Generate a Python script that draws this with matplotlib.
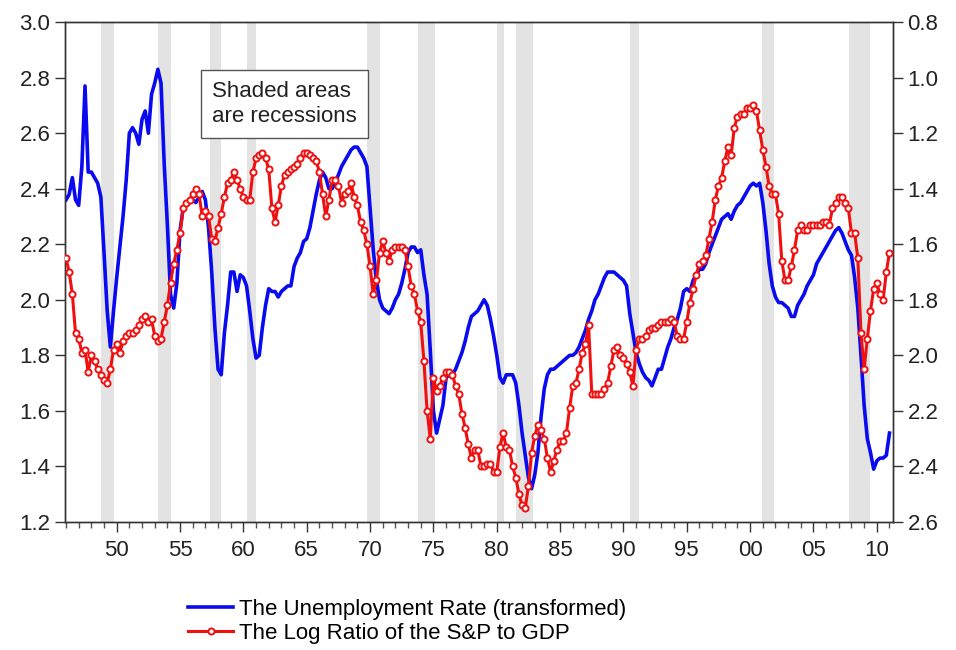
import numpy as np
import matplotlib
matplotlib.use("Agg")
import matplotlib.pyplot as plt
from matplotlib.lines import Line2D

plt.rcParams['font.family'] = ['Liberation Sans', 'DejaVu Sans']

# quarterly observations, 1946Q1 .. 2011Q1
start_year = 1946

# unemployment rate (transformed), left axis
unemp = [
    2.36, 2.38, 2.44, 2.36,  # 1946
    2.34, 2.48, 2.77, 2.46,
    2.46, 2.44, 2.42, 2.37,
    2.17, 1.96, 1.83, 1.96,
    2.08, 2.19, 2.30, 2.43,  # 1950
    2.60, 2.62, 2.60, 2.56,
    2.65, 2.68, 2.60, 2.74,
    2.78, 2.83, 2.78, 2.49,
    2.27, 2.02, 1.97, 2.06,
    2.25, 2.33, 2.34, 2.35,  # 1955
    2.36, 2.35, 2.37, 2.39,
    2.36, 2.26, 2.10, 1.90,
    1.75, 1.73, 1.88, 1.98,
    2.10, 2.10, 2.03, 2.09,
    2.08, 2.05, 1.96, 1.86,  # 1960
    1.79, 1.80, 1.90, 1.98,
    2.04, 2.03, 2.03, 2.01,
    2.03, 2.04, 2.05, 2.05,
    2.12, 2.15, 2.17, 2.21,
    2.22, 2.26, 2.32, 2.38,  # 1965
    2.43, 2.46, 2.44, 2.40,
    2.40, 2.42, 2.45, 2.48,
    2.50, 2.52, 2.54, 2.55,
    2.55, 2.53, 2.51, 2.48,
    2.33, 2.18, 2.07, 2.00,  # 1970
    1.97, 1.96, 1.95, 1.97,
    2.00, 2.02, 2.06, 2.11,
    2.17, 2.19, 2.19, 2.17,
    2.18, 2.09, 2.02, 1.82,
    1.60, 1.52, 1.57, 1.62,  # 1975
    1.72, 1.73, 1.73, 1.75,
    1.78, 1.81, 1.85, 1.90,
    1.94, 1.95, 1.96, 1.98,
    2.00, 1.98, 1.93, 1.87,
    1.80, 1.72, 1.70, 1.73,  # 1980
    1.73, 1.73, 1.70, 1.62,
    1.52, 1.44, 1.36, 1.32,
    1.37, 1.45, 1.58, 1.68,
    1.73, 1.75, 1.75, 1.76,
    1.77, 1.78, 1.79, 1.80,  # 1985
    1.80, 1.81, 1.83, 1.86,
    1.89, 1.93, 1.96, 2.00,
    2.02, 2.05, 2.08, 2.10,
    2.10, 2.10, 2.09, 2.08,
    2.07, 2.05, 1.95, 1.88,  # 1990
    1.81, 1.77, 1.74, 1.72,
    1.71, 1.69, 1.72, 1.75,
    1.75, 1.79, 1.83, 1.86,
    1.90, 1.93, 1.97, 2.03,
    2.04, 2.03, 2.07, 2.09,  # 1995
    2.11, 2.11, 2.13, 2.17,
    2.20, 2.23, 2.26, 2.29,
    2.30, 2.31, 2.29, 2.32,
    2.34, 2.35, 2.37, 2.39,
    2.41, 2.42, 2.41, 2.42,  # 2000
    2.35, 2.25, 2.13, 2.05,
    2.01, 1.99, 1.99, 1.98,
    1.97, 1.94, 1.94, 1.98,
    2.00, 2.02, 2.05, 2.07,
    2.09, 2.13, 2.15, 2.17,  # 2005
    2.19, 2.21, 2.23, 2.25,
    2.26, 2.24, 2.21, 2.18,
    2.16, 2.08, 1.97, 1.80,
    1.62, 1.50, 1.45, 1.39,
    1.42, 1.43, 1.43, 1.44,  # 2010
    1.52,
]

# log ratio of the S&P to GDP, right axis (inverted)
sp_gdp = [
    1.65, 1.70, 1.78, 1.92,  # 1946
    1.94, 1.99, 1.98, 2.06,
    2.00, 2.02, 2.05, 2.07,
    2.09, 2.10, 2.05, 1.98,
    1.96, 1.99, 1.95, 1.93,  # 1950
    1.92, 1.92, 1.91, 1.89,
    1.87, 1.86, 1.88, 1.87,
    1.93, 1.95, 1.94, 1.88,
    1.82, 1.74, 1.67, 1.62,
    1.56, 1.47, 1.45, 1.44,  # 1955
    1.42, 1.40, 1.42, 1.50,
    1.48, 1.50, 1.58, 1.59,
    1.54, 1.49, 1.43, 1.38,
    1.37, 1.34, 1.37, 1.40,
    1.43, 1.44, 1.44, 1.34,  # 1960
    1.29, 1.28, 1.27, 1.29,
    1.33, 1.47, 1.52, 1.46,
    1.39, 1.35, 1.34, 1.33,
    1.32, 1.31, 1.29, 1.27,
    1.27, 1.28, 1.29, 1.30,  # 1965
    1.34, 1.42, 1.50, 1.44,
    1.37, 1.37, 1.39, 1.45,
    1.42, 1.41, 1.38, 1.43,
    1.46, 1.52, 1.55, 1.60,
    1.68, 1.78, 1.73, 1.63,  # 1970
    1.59, 1.63, 1.66, 1.62,
    1.61, 1.61, 1.61, 1.62,
    1.68, 1.75, 1.78, 1.84,
    1.88, 2.02, 2.20, 2.30,
    2.08, 2.13, 2.11, 2.08,  # 1975
    2.06, 2.06, 2.07, 2.11,
    2.14, 2.21, 2.26, 2.32,
    2.37, 2.34, 2.34, 2.40,
    2.40, 2.39, 2.39, 2.42,
    2.42, 2.33, 2.28, 2.33,  # 1980
    2.34, 2.40, 2.44, 2.50,
    2.54, 2.55, 2.47, 2.35,
    2.29, 2.25, 2.27, 2.30,
    2.37, 2.42, 2.38, 2.34,
    2.31, 2.31, 2.28, 2.19,  # 1985
    2.11, 2.10, 2.05, 1.99,
    1.96, 1.89, 2.14, 2.14,
    2.14, 2.14, 2.12, 2.10,
    2.04, 1.98, 1.97, 2.00,
    2.01, 2.03, 2.06, 2.11,  # 1990
    1.98, 1.94, 1.94, 1.93,
    1.91, 1.90, 1.90, 1.89,
    1.88, 1.88, 1.88, 1.87,
    1.88, 1.93, 1.94, 1.94,
    1.88, 1.81, 1.76, 1.71,  # 1995
    1.67, 1.66, 1.64, 1.58,
    1.52, 1.44, 1.39, 1.36,
    1.30, 1.25, 1.28, 1.18,
    1.14, 1.13, 1.13, 1.11,
    1.11, 1.10, 1.12, 1.19,  # 2000
    1.26, 1.32, 1.39, 1.42,
    1.42, 1.49, 1.66, 1.73,
    1.73, 1.68, 1.62, 1.55,
    1.53, 1.55, 1.55, 1.53,
    1.53, 1.53, 1.53, 1.52,  # 2005
    1.52, 1.53, 1.47, 1.45,
    1.43, 1.43, 1.45, 1.47,
    1.56, 1.56, 1.65, 1.92,
    2.05, 1.94, 1.84, 1.76,
    1.74, 1.78, 1.80, 1.70,  # 2010
    1.63,
]

recessions = [
    (1948.75, 1949.75), (1953.25, 1954.3), (1957.4, 1958.2), (1960.25, 1961.0),
    (1969.75, 1970.8), (1973.75, 1975.1), (1980.0, 1980.6), (1981.5, 1982.9),
    (1990.5, 1991.2), (2000.95, 2001.85), (2007.8, 2009.45),
]

major_years = list(range(1950, 2011, 5))
major_labels = ['50', '55', '60', '65', '70', '75', '80', '85', '90', '95', '00', '05', '10']

t = start_year + 0.25 * np.arange(len(unemp))

fig = plt.figure(figsize=(9.56, 6.5), dpi=100)
ax = fig.add_axes([0.068, 0.197, 0.866, 0.769])
ax2 = ax.twinx()

for a, b in recessions:
    ax.axvspan(a, b, color='#e3e3e3', lw=0, zorder=0)

ax.plot(t, unemp, color='#0a0af0', lw=2.6, zorder=3)
ax2.plot(t, sp_gdp, color='#f01010', lw=2.2, marker='o', ms=4.4,
         mfc='white', mec='#f01010', mew=1.4, zorder=3)

ax.set_xlim(1945.92, 2011.27)
ax.set_ylim(1.2, 3.0)
ax2.set_ylim(2.6, 0.8)
ax.set_yticks(np.arange(1.2, 3.01, 0.2))
ax2.set_yticks(np.arange(0.8, 2.61, 0.2))
ax.set_xticks(major_years)
ax.set_xticklabels(major_labels)
ax.set_xticks(range(1946, 2012), minor=True)

for a in (ax, ax2):
    for s in a.spines.values():
        s.set_color('#333333')
        s.set_linewidth(1.0)
    a.tick_params(axis='both', which='major', length=7, width=1, color='#333333',
                  labelsize=16, labelcolor='#222222')
    a.tick_params(axis='both', which='minor', length=4, width=1, color='#555555')
ax.yaxis.set_major_formatter(plt.FormatStrFormatter('%.1f'))
ax2.yaxis.set_major_formatter(plt.FormatStrFormatter('%.1f'))
ax.tick_params(axis='x', pad=6)

ax.text(0.178, 0.836, "Shaded areas\nare recessions", transform=ax.transAxes,
        ha='left', va='center', fontsize=16, color='#222222', linespacing=1.25,
        zorder=5,
        bbox=dict(boxstyle='square,pad=0.5', fc='white', ec='#555555', lw=1))

handles = [
    Line2D([], [], color='#0a0af0', lw=2.6),
    Line2D([0, 1, 2], [0, 0, 0], color='#f01010', lw=2.2, marker='o', ms=4.4,
           mfc='white', mec='#f01010', mew=1.4, markevery=[1]),
]
fig.legend(handles, ["The Unemployment Rate (transformed)", "The Log Ratio of the S&P to GDP"],
           loc='upper left', bbox_to_anchor=(0.197, 0.079), frameon=False,
           fontsize=16, handlelength=2.0, handletextpad=0.3, labelspacing=0.15,
           borderaxespad=0, borderpad=0)
fig.savefig("out.png", dpi=100)
